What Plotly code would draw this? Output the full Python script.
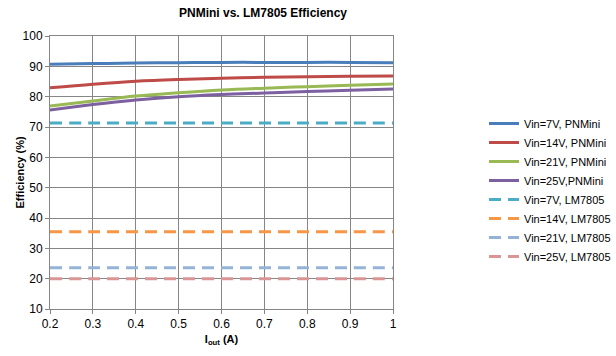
import plotly.graph_objects as go

iout = [0.2, 0.3, 0.4, 0.5, 0.6, 0.7, 0.8, 0.9, 1.0]
pn_7v = [90.7, 90.9, 91.1, 91.2, 91.3, 91.3, 91.3, 91.3, 91.2]
pn_14v = [82.9, 84.1, 85.1, 85.7, 86.1, 86.4, 86.6, 86.7, 86.8]
pn_21v = [76.9, 78.6, 80.2, 81.3, 82.2, 82.8, 83.3, 83.8, 84.2]
pn_25v = [75.6, 77.4, 78.9, 80.0, 80.7, 81.2, 81.7, 82.1, 82.5]
lm_7v = [71.3] * 9
lm_14v = [35.5] * 9
lm_21v = [23.6] * 9
lm_25v = [20.0] * 9

names = ["Vin=7V, PNMini", "Vin=14V, PNMini", "Vin=21V, PNMini", "Vin=25V,PNMini",
         "Vin=7V, LM7805", "Vin=14V, LM7805", "Vin=21V, LM7805", "Vin=25V, LM7805"]
series = [pn_7v, pn_14v, pn_21v, pn_25v, lm_7v, lm_14v, lm_21v, lm_25v]
colors = ["#4A7EBB", "#BE4B48", "#98B954", "#7D60A0",
          "#4BACC6", "#F79646", "#95B3D7", "#D99694"]

fig = go.Figure()
for i, (n, s, c) in enumerate(zip(names, series, colors)):
    fig.add_trace(go.Scatter(
        x=iout, y=s, name=n, mode="lines",
        line=dict(color=c, width=3, dash="solid" if i < 4 else "12px,7px", shape="spline"),
    ))

L, R, T, B = 50, 393, 36, 309
PW, PH = R - L, B - T

font = "Liberation Sans, Arial, sans-serif"
fig.update_layout(
    width=616, height=356,
    margin=dict(l=L, r=616 - R, t=T, b=356 - B, autoexpand=False),
    paper_bgcolor="white", plot_bgcolor="white",
    font=dict(family=font, size=12, color="black"),
    title=dict(text="<b>PNMini vs. LM7805 Efficiency</b>", x=263/616, xanchor="center",
               y=1 - 13/356, yanchor="middle", font=dict(size=12, family=font)),
    xaxis=dict(range=[0.2, 1.0], dtick=0.1, tick0=0.2, showgrid=True, gridcolor="#868686",
               gridwidth=1, showline=True, linecolor="#868686", mirror=True,
               ticks="outside", ticklen=4, tickcolor="#868686", automargin=False,
               title=dict(text="<b>I<sub>out</sub> (A)</b>", font=dict(size=11), standoff=4),
               zeroline=False),
    yaxis=dict(range=[10, 100], dtick=10, showgrid=True, gridcolor="#868686",
               gridwidth=1, showline=True, linecolor="#868686", mirror=True,
               ticks="outside", ticklen=4, tickcolor="#868686", automargin=False,
               zeroline=False),
    legend=dict(x=(484 - L) / PW, xanchor="left", y=(B - 109) / PH, yanchor="top",
                font=dict(size=11), bgcolor="rgba(0,0,0,0)", itemwidth=30,
                tracegroupgap=0),
    showlegend=True,
)
fig.add_annotation(text="<b>Efficiency (%)</b>", textangle=-90, showarrow=False,
                   xref="paper", yref="paper", x=(19 - L) / PW, y=0.5,
                   xanchor="center", yanchor="middle", font=dict(size=11))
fig.write_html("out.html", post_script="document.body.style.margin='0';",
               config={"displayModeBar": False})
